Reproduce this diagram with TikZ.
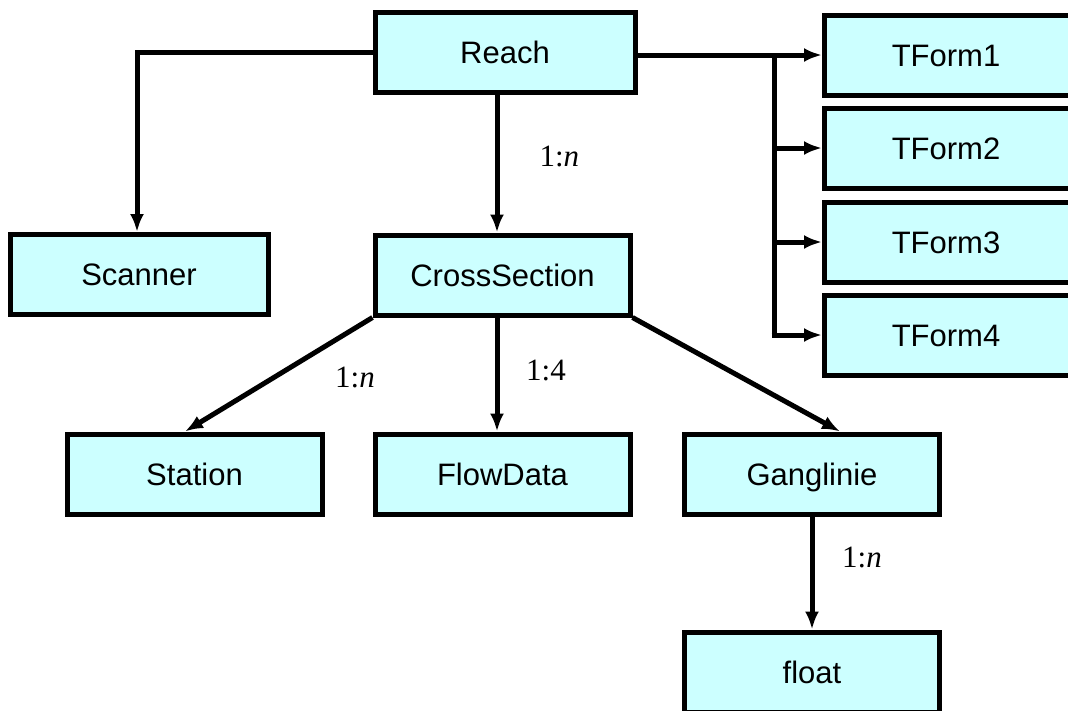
\documentclass[tikz,border=0pt]{standalone}
\usepackage{fontspec}
\setmainfont{Liberation Serif}
\setsansfont{Liberation Sans}
\usetikzlibrary{arrows.meta}
\definecolor{boxfill}{RGB}{204,255,255}
\begin{document}
\begin{tikzpicture}[x=1pt,y=-1pt,
  entity/.style={draw=black,line width=5pt,fill=boxfill,minimum width=255pt,minimum height=80pt,
    inner sep=0pt,text height=22pt,text depth=0pt,font=\sffamily\fontsize{31}{36}\selectfont},
  link/.style={line width=5pt,-{Latex[length=18pt,width=14pt]}},
  plain/.style={line width=5pt},
  card/.style={font=\fontsize{31}{36}\selectfont,inner sep=0pt}]
\clip (0,0) rectangle (1068,710);
\useasboundingbox (0,0) rectangle (1068,710);

% entities
\node[entity,minimum width=260pt] (reach) at (505,52) {Reach};
\node[entity,minimum width=258pt] (scanner) at (139,274.5) {Scanner};
\node[entity] (cross) at (502.5,275) {CrossSection};
\node[entity] (station) at (194.5,474) {Station};
\node[entity] (flow) at (502.5,474) {FlowData};
\node[entity] (gang) at (812,474) {Ganglinie};
\node[entity] (float) at (812,672) {float};
\node[entity,anchor=west] (tf1) at (822,55) {\hspace*{-12pt}TForm1};
\node[entity,anchor=west] (tf2) at (822,148) {\hspace*{-12pt}TForm2};
\node[entity,anchor=west] (tf3) at (822,242) {\hspace*{-12pt}TForm3};
\node[entity,anchor=west] (tf4) at (822,335) {\hspace*{-12pt}TForm4};

% Reach to Scanner
\draw[link] (reach.west |- 0,52) -| (scanner.north -| 137,0);

% Reach to CrossSection
\draw[link] (reach.south -| 497,0) -- (cross.north -| 497,0)
  node[card,pos=0.45,right=40pt] {1:\textit{n}};

% Reach to the transforms
\coordinate (trunk) at (774,55);
\draw[link] (reach.east |- 0,55) -- (tf1.west);
\draw[plain] (trunk) -- (774,337.5);
\draw[link] (774,148) -- (tf2.west);
\draw[link] (774,242) -- (tf3.west);
\draw[link] (771.5,335) -- (tf4.west);

% CrossSection to its parts
\draw[link] (cross.south west) -- (station.north -| 185,0);
\node[card] (l1) at (355,377) {1:\textit{n}};
\draw[link] (cross.south -| 497,0) -- (flow.north -| 497,0);
\node[card] (l2) at (546,370) {1:4};
\draw[link] (cross.south east) -- (gang.north -| 840,0);

% Ganglinie to float
\draw[link] (gang.south) -- (float.north);
\node[card] (l3) at (862,557) {1:\textit{n}};
\end{tikzpicture}
\end{document}
